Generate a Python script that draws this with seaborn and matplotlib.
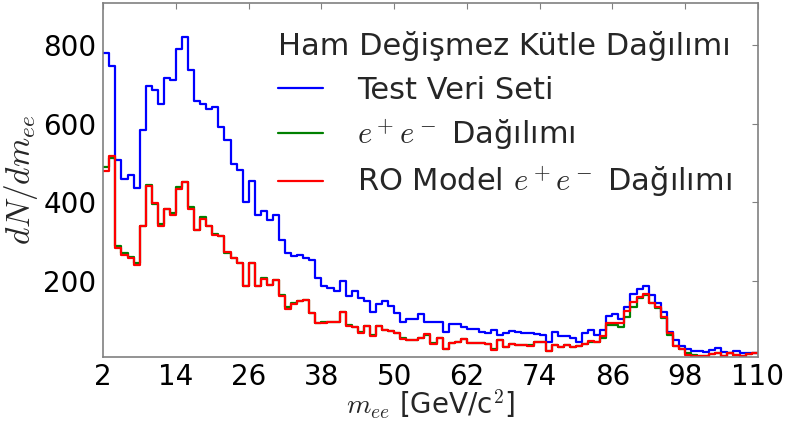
import numpy as np
import pandas as pd
import matplotlib
matplotlib.use("Agg")
import matplotlib.pyplot as plt
import seaborn as sns

# bin left edges: 2..109 (1 GeV bins)
bin_edges = list(range(2, 111))

test_counts = [780, 748, 507, 460, 469, 437, 585, 697, 685, 650,
               717, 711, 789, 820, 736, 657, 650, 638, 642, 592,
               558, 497, 482, 401, 454, 369, 377, 355, 367, 304,
               271, 263, 265, 259, 254, 208, 187, 182, 174, 199,
               161, 174, 157, 148, 121, 142, 148, 136, 119, 97,
               104, 103, 116, 97, 95, 97, 71, 90, 90, 84,
               77, 77, 71, 67, 75, 63, 69, 73, 71, 69,
               69, 66, 63, 44, 71, 59, 59, 54, 46, 67,
               76, 63, 76, 112, 115, 103, 134, 166, 179, 187,
               165, 143, 120, 71, 50, 35, 26, 23, 23, 20,
               24, 29, 20, 18, 23, 18, 18, 16]

ee_counts = [489, 512, 288, 272, 262, 245, 341, 445, 395, 345,
             383, 372, 438, 451, 387, 329, 362, 339, 320, 314,
             270, 259, 246, 188, 246, 188, 207, 190, 202, 165,
             135, 145, 148, 151, 119, 92, 95, 97, 95, 120,
             88, 84, 70, 86, 62, 86, 76, 72, 68, 55,
             51, 49, 55, 64, 42, 54, 28, 43, 46, 52,
             43, 43, 43, 39, 27, 50, 31, 39, 37, 37,
             38, 44, 44, 22, 37, 31, 37, 31, 34, 41,
             46, 46, 54, 88, 88, 84, 109, 135, 156, 165,
             143, 131, 105, 63, 34, 26, 18, 11, 9, 9,
             14, 18, 10, 16, 11, 9, 14, 16]

ro_counts = [479, 517, 284, 267, 259, 242, 341, 441, 399, 341,
             383, 369, 433, 451, 383, 329, 358, 339, 318, 314,
             273, 259, 246, 188, 246, 188, 206, 190, 202, 161,
             129, 142, 148, 151, 119, 92, 93, 97, 95, 120,
             85, 84, 68, 86, 59, 86, 76, 72, 68, 53,
             51, 49, 55, 65, 40, 55, 26, 43, 46, 53,
             42, 43, 43, 39, 25, 50, 31, 39, 37, 37,
             36, 45, 46, 22, 37, 31, 37, 31, 34, 41,
             48, 46, 61, 92, 94, 92, 125, 146, 160, 167,
             145, 135, 109, 67, 35, 26, 12, 9, 9, 9,
             14, 18, 10, 16, 11, 9, 14, 16]

x_ticks = [2, 14, 26, 38, 50, 62, 74, 86, 98, 110]
y_ticks = [200, 400, 600, 800]

series_labels = ["Test Veri Seti", r"$e^+e^-$ Dağılımı", r"RO Model $e^+e^-$ Dağılımı"]
series_colors = ["#0000ff", "#008000", "#ff0000"]
legend_title = "Ham Değişmez Kütle Dağılımı"

sns.set_style("white")
plt.rcParams["font.family"] = ["DejaVu Sans"]
plt.rcParams["mathtext.fontset"] = "cm"

fig = plt.figure(figsize=(7.86, 4.32), dpi=100)
ax = fig.add_axes([0.1314, 0.1729, 0.964 - 0.1314, 0.993 - 0.1729])

centers = np.array(bin_edges[:-1]) + 0.5
for counts, lab, col in zip([test_counts, ee_counts, ro_counts], series_labels, series_colors):
    df = pd.DataFrame({"m": centers, "w": counts})
    sns.histplot(data=df, x="m", weights="w", bins=bin_edges, element="step",
                 fill=False, color=col, linewidth=1.6, label=lab, ax=ax)

ax.set_xlim(2, 110)
ax.set_ylim(6, 907)
ax.set_xticks(x_ticks)
ax.set_yticks(y_ticks)
ax.tick_params(axis="both", which="both", direction="in", length=4, width=0.8,
               top=True, right=True, labelsize=20, colors="#808080", labelcolor="black", pad=5)
ax.tick_params(axis="x", pad=4)
for s in ax.spines.values():
    s.set_color("#808080")
    s.set_linewidth(1.2)

ax.set_xlabel(r"$m_{ee}$ [GeV/c$^2$]", fontsize=20, labelpad=-2)
ax.set_ylabel(r"$dN/dm_{ee}$", fontsize=24, labelpad=2)

leg = ax.legend(title=legend_title, loc="upper right", frameon=False, fontsize=22,
                title_fontsize=22, handlelength=1.5, handletextpad=1.1,
                labelspacing=0.4, bbox_to_anchor=(0.979, 0.955), borderaxespad=0)
leg._legend_box.sep = 10.5

fig.savefig("out.png", dpi=100)
